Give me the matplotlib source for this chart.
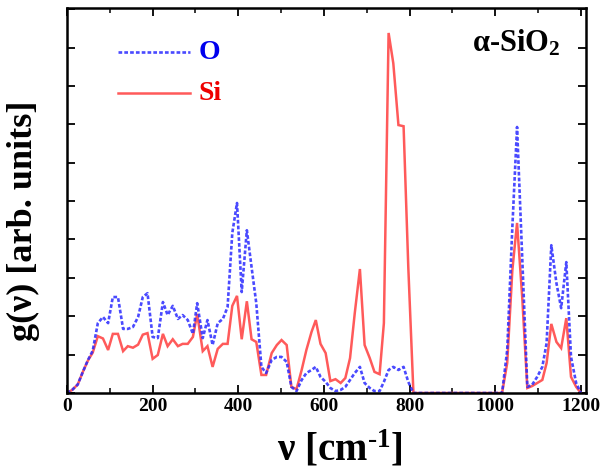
import matplotlib
matplotlib.use("Agg")
import matplotlib.pyplot as plt
from matplotlib.ticker import MultipleLocator

freq_Si = [0, 12, 25, 37, 49, 60, 72, 84, 96, 107, 119, 131, 142, 154, 166, 177, 188,
           200, 212, 224, 235, 247, 259, 270, 282, 294, 304, 317, 328, 340, 352, 364,
           375, 386, 397, 408, 420, 431, 442, 454, 465, 478, 490, 501, 513, 524, 536,
           548, 559, 571, 581, 592, 604, 615, 627, 639, 650, 661, 672, 684, 695, 707,
           718, 730, 740, 751, 762, 774, 786, 797, 809, 1016, 1028, 1040, 1051, 1063,
           1075, 1086, 1098, 1110, 1120, 1131, 1143, 1154, 1166, 1177, 1189, 1200]
g_Si = [0, 0.08, 0.22, 0.55, 0.85, 1.05, 1.48, 1.42, 1.12, 1.54, 1.54, 1.09, 1.22, 1.18,
        1.26, 1.52, 1.56, 0.89, 0.99, 1.54, 1.22, 1.40, 1.22, 1.28, 1.28, 1.46, 2.06,
        1.09, 1.22, 0.68, 1.15, 1.28, 1.28, 2.27, 2.53, 1.40, 2.39, 1.40, 1.33, 0.47,
        0.47, 1.04, 1.25, 1.38, 1.25, 0.16, 0.10, 0.60, 1.12, 1.59, 1.90, 1.28, 1.04,
        0.31, 0.36, 0.26, 0.39, 0.91, 2.08, 3.23, 1.25, 0.91, 0.55, 0.49, 1.82, 9.38,
        8.59, 6.98, 6.95, 3.28, 0, 0, 0.78, 3.20, 4.43, 2.50, 0.13, 0.18, 0.26, 0.34,
        0.78, 1.80, 1.33, 1.17, 1.95, 0.42, 0.16, 0]

freq_O = [0, 12, 25, 37, 49, 60, 72, 84, 96, 107, 119, 131, 142, 154, 166, 177, 188,
          200, 212, 224, 235, 247, 259, 270, 282, 294, 304, 317, 328, 340, 352, 364,
          375, 386, 397, 408, 420, 431, 442, 454, 465, 478, 490, 501, 513, 524, 536,
          548, 559, 571, 581, 592, 604, 615, 627, 639, 650, 661, 672, 684, 695, 707,
          718, 730, 740, 751, 762, 774, 786, 797, 809, 1016, 1028, 1040, 1051, 1063,
          1075, 1086, 1098, 1110, 1120, 1131, 1143, 1154, 1166, 1177, 1189, 1200]
g_O = [0, 0.08, 0.22, 0.55, 0.86, 1.10, 1.82, 1.98, 1.82, 2.50, 2.50, 1.67, 1.67, 1.72,
       1.98, 2.50, 2.60, 1.46, 1.43, 2.37, 2.03, 2.27, 1.93, 2.03, 1.90, 1.54, 2.34,
       1.43, 1.90, 1.25, 1.82, 1.93, 2.24, 4.17, 4.95, 2.63, 4.24, 3.28, 2.34, 0.68,
       0.52, 0.86, 0.94, 0.94, 0.81, 0.16, 0.05, 0.34, 0.52, 0.60, 0.68, 0.42, 0.29,
       0.13, 0.05, 0.08, 0.16, 0.34, 0.52, 0.68, 0.26, 0.13, 0.05, 0.05, 0.29, 0.60,
       0.68, 0.60, 0.68, 0.29, 0, 0, 1.12, 4.32, 6.93, 3.54, 0.16, 0.21, 0.42, 0.68,
       1.30, 3.85, 2.86, 2.21, 3.41, 0.94, 0.26, 0]

xticks = [0, 200, 400, 600, 800, 1000, 1200]

serif = ['Liberation Serif', 'DejaVu Serif']
plt.rcParams['font.family'] = serif
plt.rcParams['mathtext.fontset'] = 'custom'
plt.rcParams['mathtext.rm'] = 'Liberation Serif'
plt.rcParams['mathtext.bf'] = 'Liberation Serif:bold'
plt.rcParams['mathtext.it'] = 'Liberation Serif:italic'

fig = plt.figure(figsize=(6.0, 4.72), dpi=100)
ax = fig.add_axes([67/600, 1-393/472, 519/600, 385/472])

ax.plot(freq_Si, g_Si, color='#ff5a5a', lw=1.8, solid_joinstyle='miter')
ax.plot(freq_O, g_O, color='#2a2aff', lw=1.9, dashes=(1.4, 0.8), alpha=0.85)

ax.set_xlim(0, 1212)
ax.set_ylim(0, 10.03)
ax.set_xticks(xticks)
ax.xaxis.set_minor_locator(MultipleLocator(100))
ax.yaxis.set_major_locator(MultipleLocator(1))
ax.set_yticklabels([])
ax.tick_params(axis='both', which='major', direction='in', length=6, width=1.3,
               top=True, right=True, labelsize=14)
ax.tick_params(axis='both', which='minor', direction='in', length=3.5, width=1.1,
               top=True, right=True)
for lab in ax.get_xticklabels():
    lab.set_fontweight('bold')
for s in ax.spines.values():
    s.set_linewidth(1.8)

# legend drawn manually
lx0 = (118-67)/519*1212
lx1 = (190-67)/519*1212
ax.plot([lx0, lx1], [(393-52)/38.4]*2, color='#2a2aff', lw=1.9, dashes=(1.4, 0.8), alpha=0.85)
ax.plot([lx0, lx1], [(393-93)/38.4]*2, color='#ff5a5a', lw=1.8)
ax.text((199-67)/519*1212, (393-52)/38.4, 'O', color='#0000ee', fontsize=20,
        fontweight='bold', va='center', ha='left')
ax.text((199-67)/519*1212, (393-93)/38.4, 'Si', color='#ee0000', fontsize=20,
        fontweight='bold', va='center', ha='left')

ax.text((560-67)/519, 1-(43-8)/385, r'$\mathbf{\alpha}$-SiO$_\mathbf{2}$',
        transform=ax.transAxes, ha='right', va='center', fontsize=22, fontweight='bold')

fig.text(23/600, 1-221/472, 'g(ν) [arb. units]', fontsize=26, fontweight='bold',
         rotation=90, ha='center', va='center')
fig.text(340/600, 1-449/472, r'ν [cm$^{\mathbf{\text{-}1}}$]', fontsize=28,
         fontweight='bold', ha='center', va='center')

fig.savefig('out.png', dpi=100)
